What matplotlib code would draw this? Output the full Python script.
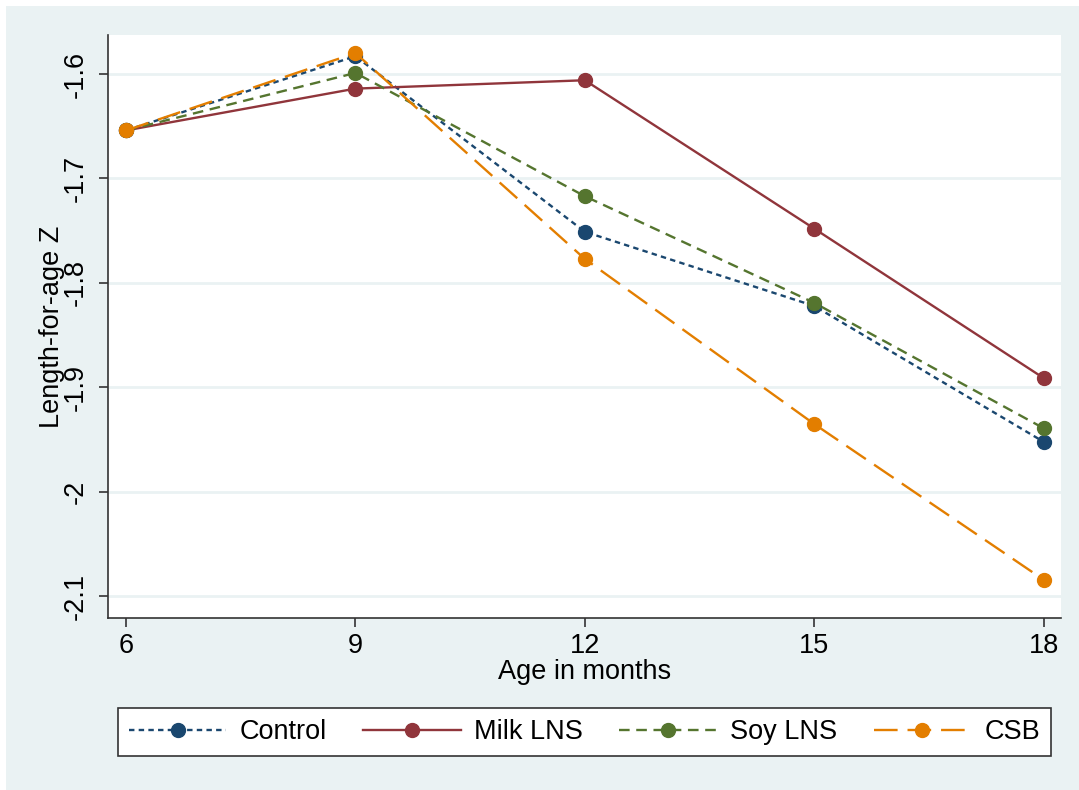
import matplotlib.pyplot as plt
from matplotlib.patches import Rectangle

plt.rcParams['font.family'] = ['Liberation Sans', 'DejaVu Sans']

age = [6, 9, 12, 15, 18]
control = [-1.654, -1.583, -1.751, -1.822, -1.952]
milk_lns = [-1.654, -1.614, -1.606, -1.748, -1.891]
soy_lns = [-1.654, -1.599, -1.717, -1.819, -1.939]
csb = [-1.654, -1.580, -1.777, -1.935, -2.084]

yticks = [-1.6, -1.7, -1.8, -1.9, -2.0, -2.1]
ytick_labels = ["-1.6", "-1.7", "-1.8", "-1.9", "-2", "-2.1"]
xticks = [6, 9, 12, 15, 18]

bg = "#EAF2F3"
fs = 19.5

fig = plt.figure(figsize=(10.79, 7.90), dpi=100, facecolor="white")
fig.patches.append(Rectangle((6 / 1079, 0), 1, 1 - 6 / 790, transform=fig.transFigure,
                             facecolor=bg, edgecolor="none", zorder=-10))

ax = fig.add_axes([108 / 1079, 1 - 618 / 790, (1061 - 108) / 1079, (618 - 35) / 790])
ax.set_facecolor("white")

series = [
    ("Control", control, "#1A476F", (2.3, 1.8)),
    ("Milk LNS", milk_lns, "#90353B", None),
    ("Soy LNS", soy_lns, "#55752F", (4.5, 2.8)),
    ("CSB", csb, "#E37E00", (10.0, 4.2)),
]
for name, vals, col, dash in series:
    line, = ax.plot(age, vals, color=col, lw=1.7, marker="o", ms=10, label=name, zorder=3)
    if dash is not None:
        line.set_dashes(dash)

ax.set_xlim(5.764, 18.227)
ax.set_ylim(-2.1206, -1.5627)
ax.set_xticks(xticks)
ax.set_yticks(yticks)
ax.set_yticklabels(ytick_labels, rotation=90, va="center")
ax.grid(axis="y", color=bg, lw=2, zorder=0)
ax.set_axisbelow(True)

for s in ["top", "right"]:
    ax.spines[s].set_visible(False)
for s in ["left", "bottom"]:
    ax.spines[s].set_color("#333333")
    ax.spines[s].set_linewidth(1.2)
ax.tick_params(axis="both", length=6.5, width=1.2, color="#333333", labelsize=fs)
ax.tick_params(axis="y", pad=7)
ax.tick_params(axis="x", pad=4)

ax.set_xlabel("Age in months", fontsize=fs, labelpad=0)
ax.set_ylabel("Length-for-age Z", fontsize=fs, labelpad=-1)

leg = fig.legend(loc="lower left", ncol=4, mode="expand",
                 bbox_to_anchor=(118 / 1079, 1 - 756 / 790, (1051 - 118) / 1079, 49 / 790),
                 borderaxespad=0, fontsize=fs, handlelength=3.6, handletextpad=0.5,
                 fancybox=False, framealpha=1, edgecolor="#333333")
leg.get_frame().set_linewidth(1.2)

plt.savefig("out.png", dpi=100, facecolor=fig.get_facecolor())
